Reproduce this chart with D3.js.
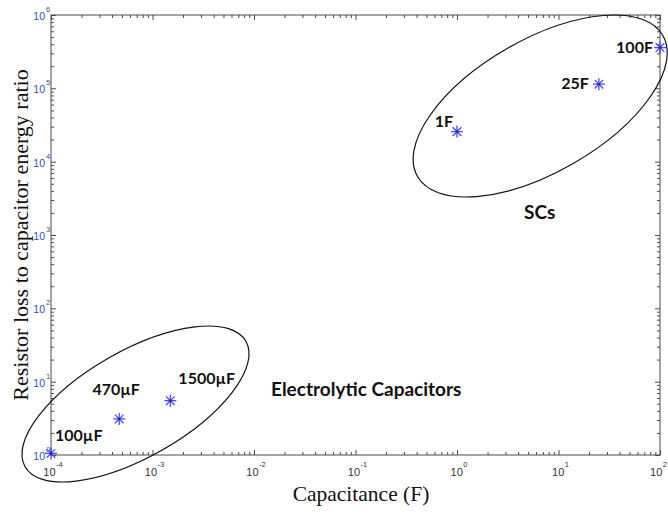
<!DOCTYPE html>
<html>
<head>
<meta charset="utf-8">
<script src="https://cdn.jsdelivr.net/npm/d3@7"></script>
<style>
  html, body { margin: 0; padding: 0; background: #fff; }
  svg { display: block; }
</style>
</head>
<body>
<svg id="chart" width="668" height="517"></svg>
<script>
// ---- data ----
const capacitance = [1e-4, 4.7e-4, 1.5e-3, 1, 25, 100];            // F
const energyRatio = [1.05, 3.1, 5.5, 2.57e4, 1.14e5, 3.6e5];        // resistor loss / capacitor energy
const pointLabels = ["100µF", "470µF", "1500µF", "1F", "25F", "100F"];
const xTickExponents = [-4, -3, -2, -1, 0, 1, 2];
const yTickExponents = [0, 1, 2, 3, 4, 5, 6];
const groupNames = ["Electrolytic Capacitors", "SCs"];
// group ellipse centres (data units)
const groupCenterX = [6.8e-4, 6.6];
const groupCenterY = [4.96, 5.74e4];

// ---- styles / layout ----
const W = 668;
const plotL = 51, plotR = 660, plotT = 15, plotB = 455;
const labelStyle = [ // dx, dy, anchor per point label
  {dx: 4, dy: -12, anchor: "start"},
  {dx: -3, dy: -24, anchor: "middle"},
  {dx: 8, dy: -17, anchor: "start"},
  {dx: -4, dy: -5, anchor: "end"},
  {dx: -10, dy: 5, anchor: "end"},
  {dx: -7, dy: 5, anchor: "end"}
];
const groupEllipse = [ // semi-axes (px) and tilt
  {a: 127, b: 53.3, angle: -29.6},
  {a: 141.5, b: 66.3, angle: -29.9}
];
const groupText = [
  {x: 271, y: 396, size: 19},
  {x: 524, y: 219, size: 19}
];

const svg = d3.select("#chart");
const x = d3.scaleLog().domain([1e-4, 1e2]).range([plotL, plotR]);
const y = d3.scaleLog().domain([1, 1e6]).range([plotB, plotT]);

const minorX = [], minorY = [];
for (let e = -4; e < 2; e++) for (let k = 2; k <= 9; k++) minorX.push(k * Math.pow(10, e));
for (let e = 0; e < 6; e++) for (let k = 2; k <= 9; k++) minorY.push(k * Math.pow(10, e));
const majorX = xTickExponents.map(e => Math.pow(10, e));
const majorY = yTickExponents.map(e => Math.pow(10, e));

const axisColor = "#4a4a4a";
function styleAxis(g) {
  g.select(".domain").remove();
  g.selectAll("line").attr("stroke", axisColor).attr("stroke-width", 1);
}
function addTicks(vals, len) {
  svg.append("g").attr("transform", `translate(0,${plotB})`)
    .call(d3.axisBottom(x).tickValues(vals.x).tickSize(-len).tickFormat("")).call(styleAxis);
  svg.append("g").attr("transform", `translate(0,${plotT})`)
    .call(d3.axisTop(x).tickValues(vals.x).tickSize(-len).tickFormat("")).call(styleAxis);
  svg.append("g").attr("transform", `translate(${plotL},0)`)
    .call(d3.axisLeft(y).tickValues(vals.y).tickSize(-len).tickFormat("")).call(styleAxis);
  svg.append("g").attr("transform", `translate(${plotR},0)`)
    .call(d3.axisRight(y).tickValues(vals.y).tickSize(-len).tickFormat("")).call(styleAxis);
}
addTicks({x: majorX, y: majorY}, 5);
addTicks({x: minorX, y: minorY}, 3);

// box
svg.append("rect").attr("x", plotL).attr("y", plotT)
  .attr("width", plotR - plotL).attr("height", plotB - plotT)
  .attr("fill", "none").attr("stroke", axisColor).attr("stroke-width", 1);

// tick labels
const tickFont = "'Liberation Sans', Arial, sans-serif";
const xl = svg.append("g").attr("font-family", tickFont).attr("fill", "#333");
xTickExponents.forEach(e => {
  const t = xl.append("text").attr("x", x(Math.pow(10, e)) + 2).attr("y", plotB + 21)
    .attr("text-anchor", "middle").attr("font-size", 11);
  t.append("tspan").text("10");
  t.append("tspan").attr("dy", -9).attr("dx", 0.5).attr("font-size", 7.5).text(String(e));
  // keep the last label inside the picture
  const bb = t.node().getBBox();
  if (bb.x + bb.width > W - 1) t.attr("x", +t.attr("x") - (bb.x + bb.width - (W - 1)));
});
const yl = svg.append("g").attr("font-family", tickFont).attr("fill", "#2a56b0");
yTickExponents.forEach(e => {
  yl.append("text").attr("x", plotL - 6).attr("y", y(Math.pow(10, e)) + 5)
    .attr("text-anchor", "end").attr("font-size", 10.5).text("10");
  yl.append("text").attr("x", plotL - 5).attr("y", y(Math.pow(10, e)) - 3)
    .attr("font-size", 7.5).text(String(e));
});

// axis titles
svg.append("text").attr("x", 361).attr("y", 501).attr("text-anchor", "middle")
  .attr("font-family", "'Liberation Serif', 'Times New Roman', serif").attr("font-size", 21.5)
  .attr("fill", "#111").text("Capacitance (F)");
svg.append("text").attr("transform", "translate(28,235) rotate(-90)").attr("text-anchor", "middle")
  .attr("font-family", "'Liberation Serif', 'Times New Roman', serif").attr("font-size", 22)
  .attr("fill", "#111").text("Resistor loss to capacitor energy ratio");

// group ellipses
const ell = svg.append("g");
groupCenterX.forEach((cx, i) => {
  const s = groupEllipse[i];
  ell.append("ellipse")
    .attr("transform", `translate(${x(cx)},${y(groupCenterY[i])}) rotate(${s.angle})`)
    .attr("rx", s.a).attr("ry", s.b)
    .attr("fill", "none").attr("stroke", "#111").attr("stroke-width", 1.2);
});

// markers (MATLAB-style '*')
const r = 6, rd = r * 0.72;
const starPath = `M${-r},0L${r},0M0,${-r}L0,${r}M${-rd},${-rd}L${rd},${rd}M${-rd},${rd}L${rd},${-rd}`;
const pts = svg.append("g");
capacitance.forEach((c, i) => {
  const g = pts.append("g").attr("transform", `translate(${x(c)},${y(energyRatio[i])})`);
  g.append("path").attr("d", starPath).attr("stroke", "#4a4aff").attr("stroke-width", 1.3).attr("fill", "none");
  g.append("circle").attr("r", 1.2).attr("fill", "#2020c0");
});

// point labels
const boldFont = "Lato, 'Open Sans', sans-serif";
const lbl = svg.append("g").attr("font-family", boldFont).attr("font-weight", "bold")
  .attr("font-size", 16).attr("fill", "#111");
pointLabels.forEach((t, i) => {
  const s = labelStyle[i];
  lbl.append("text").attr("x", x(capacitance[i]) + s.dx).attr("y", y(energyRatio[i]) + s.dy)
    .attr("text-anchor", s.anchor).text(t);
});

// group names
groupNames.forEach((n, i) => {
  svg.append("text").attr("x", groupText[i].x).attr("y", groupText[i].y)
    .attr("font-family", boldFont).attr("font-weight", "bold")
    .attr("font-size", groupText[i].size).attr("fill", "#111").text(n);
});
</script>
</body>
</html>
